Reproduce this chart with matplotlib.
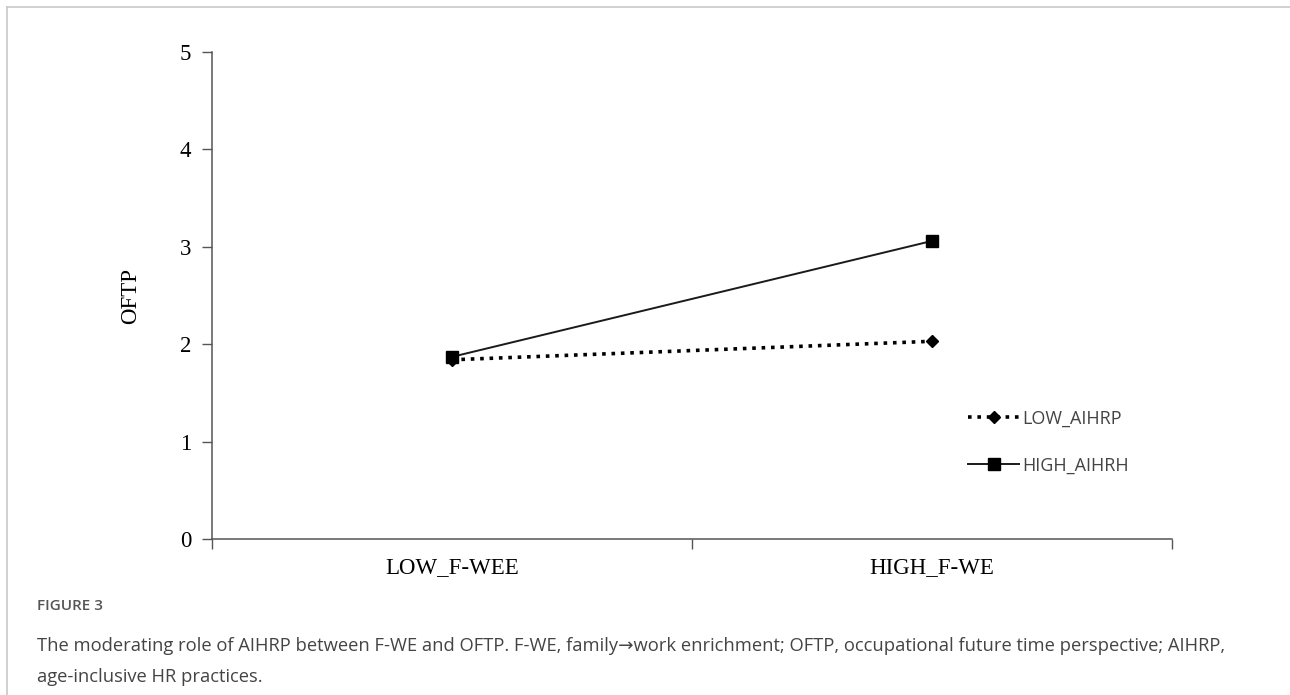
import matplotlib
matplotlib.use("Agg")
import matplotlib.pyplot as plt
from matplotlib.lines import Line2D

# data
categories = ["LOW_F-WEE", "HIGH_F-WE"]
low_aihrp = [1.84, 2.03]
high_aihrh = [1.87, 3.06]
series_names = ["LOW_AIHRP", "HIGH_AIHRH"]
y_ticks = [0, 1, 2, 3, 4, 5]

serif = ["Liberation Serif", "DejaVu Serif"]
sans = ["Open Sans", "DejaVu Sans"]

fig = plt.figure(figsize=(12.9, 6.95), dpi=100)
ax = fig.add_axes([212 / 1290, 1 - 539 / 695, 960 / 1290, 487 / 695])

dots = (0, (1, 1.6))
xpos = [i + 0.5 for i in range(len(categories))]
ax.plot(xpos, low_aihrp, color="black", linestyle=dots, linewidth=2.6,
        marker="D", markersize=6.5, label=series_names[0])
ax.plot(xpos, high_aihrh, color="#1a1a1a", linestyle="-", linewidth=1.4,
        marker="s", markersize=8, markerfacecolor="black", markeredgecolor="black")

ax.set_xlim(0, len(categories))
ax.set_ylim(0, 5)
ax.set_yticks(y_ticks)
ax.set_yticklabels([str(v) for v in y_ticks], family=serif, fontsize=16.5)
ax.set_xticks(range(len(categories) + 1))
ax.set_xticklabels([])
ax.set_xticks(xpos, minor=True)
ax.set_xticklabels(categories, minor=True, family=serif, fontsize=16.5)
ax.tick_params(axis="x", which="minor", length=0, pad=13)
ax.tick_params(axis="x", which="major", length=7, width=1, color="#555555")
ax.tick_params(axis="y", length=7, width=1, color="#555555", pad=8)
for s in ["top", "right"]:
    ax.spines[s].set_visible(False)
for s in ["left", "bottom"]:
    ax.spines[s].set_color("#555555")
    ax.spines[s].set_linewidth(1.1)
ax.set_ylabel("OFTP", family=serif, fontsize=16.5, labelpad=28)

handles = [
    Line2D([], [], color="black", linestyle=dots, linewidth=2.6, marker="D", markersize=6.5),
    Line2D([], [], color="#1a1a1a", linestyle="-", linewidth=1.4, marker="s", markersize=8,
           markerfacecolor="black", markeredgecolor="black"),
]
leg = fig.legend(handles, series_names, loc="center left",
                 bbox_to_anchor=(952 / 1290, 1 - 442 / 695), frameon=False,
                 prop={"family": sans, "size": 13}, labelspacing=1.6,
                 handlelength=2.8, handletextpad=0.2)
for t in leg.get_texts():
    t.set_color("#444444")

# page frame lines
fig.add_artist(Line2D([7 / 1290, 1], [1 - 7 / 695, 1 - 7 / 695], color="#c8c8c8", linewidth=1.2))
fig.add_artist(Line2D([7 / 1290, 7 / 1290], [0, 1 - 7 / 695], color="#c8c8c8", linewidth=1.2))

fig.text(37 / 1290, 1 - 606 / 695, "FIGURE 3", family=sans, fontsize=11,
         color="#555555", va="center", fontweight="semibold")
fig.text(37 / 1290, 1 - 646 / 695,
         "The moderating role of AIHRP between F-WE and OFTP. F-WE, family\u2192work enrichment; "
         "OFTP, occupational future time perspective; AIHRP,",
         family=sans, fontsize=13.2, color="#444444", va="center")
fig.text(37 / 1290, 1 - 677 / 695, "age-inclusive HR practices.",
         family=sans, fontsize=13.2, color="#444444", va="center")

fig.savefig("out.png", dpi=100)
